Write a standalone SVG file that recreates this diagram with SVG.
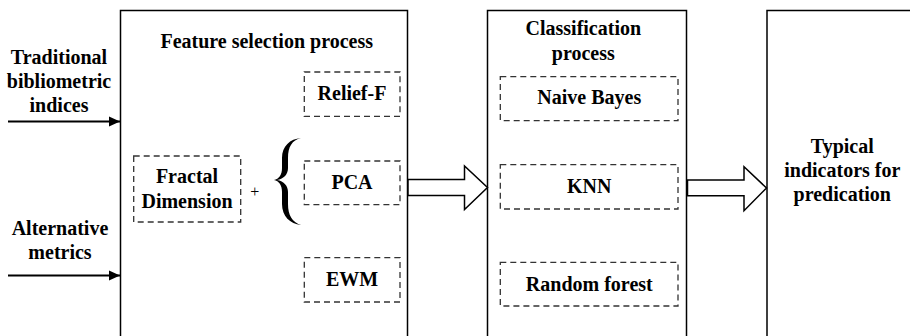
<svg xmlns="http://www.w3.org/2000/svg" width="910" height="336" viewBox="0 0 910 336">
<defs>
<marker id="ah" markerUnits="userSpaceOnUse" markerWidth="12" markerHeight="12" refX="11" refY="6" orient="auto">
<path d="M0,1 L11,6 L0,11 Z" fill="#000"/>
</marker>
<style>
.t{font-family:"Liberation Serif","Times New Roman",serif;font-weight:bold;font-size:20px;fill:#000;text-anchor:middle}
.box{fill:#fff;stroke:#000;stroke-width:1.5}
.dash{fill:none;stroke:#333;stroke-width:1.3;stroke-dasharray:6,4}
.hollow{fill:#fff;stroke:#000;stroke-width:1.5;stroke-linejoin:miter}
.line{stroke:#000;stroke-width:2;fill:none}
</style>
</defs>
<rect width="910" height="336" fill="#fff"/>

<g id="input-traditional">
<text class="t" x="59" y="64">Traditional</text>
<text class="t" x="59" y="88">bibliometric</text>
<text class="t" x="59" y="112">indices</text>
</g>
<g id="input-alternative">
<text class="t" x="60" y="235">Alternative</text>
<text class="t" x="60" y="259">metrics</text>
</g>

<g id="feature-selection">
<rect class="box" x="120.5" y="10.5" width="287" height="340"/>
<text class="t" x="266.7" y="48">Feature selection process</text>
</g>
<g id="fractal">
<rect class="dash" x="133.7" y="156" width="107" height="66"/>
<text class="t" x="187" y="182.7">Fractal</text>
<text class="t" x="187" y="207.7">Dimension</text>
</g>
<g id="plus">
<text x="254.7" y="197" style="font-family:'Liberation Serif',serif;font-size:16px;text-anchor:middle;fill:#000">+</text>
</g>
<g id="brace">
<path d="M301,138 C290,139 282,146 282,158 L282,168 C282,175 279,179 274,180 C279,181 282,185 282,192 L282,204 C282,216 290,224 301,225 C292,222 288,215 288,204 L288,192 C288,186 284,181 277,180 C284,179 288,174 288,168 L288,158 C288,147 292,140 301,138 Z" fill="#000"/>
</g>
<g id="relief-f">
<rect class="dash" x="304.3" y="72" width="95.7" height="44.3"/>
<text class="t" x="352" y="100">Relief-F</text>
</g>
<g id="pca">
<rect class="dash" x="304.3" y="161" width="95.7" height="43.7"/>
<text class="t" x="352" y="189">PCA</text>
</g>
<g id="ewm">
<rect class="dash" x="304.3" y="257.7" width="95.7" height="44.3"/>
<text class="t" x="352" y="286">EWM</text>
</g>

<g id="classification">
<rect class="box" x="487.5" y="10.5" width="199" height="340"/>
<text class="t" x="583.3" y="35">Classification</text>
<text class="t" x="583.3" y="59.5">process</text>
</g>
<g id="naive-bayes">
<rect class="dash" x="500.3" y="76.7" width="177.7" height="44"/>
<text class="t" x="589.3" y="104.3">Naive Bayes</text>
</g>
<g id="knn">
<rect class="dash" x="500.3" y="164.7" width="177.7" height="44.3"/>
<text class="t" x="589.3" y="192.7">KNN</text>
</g>
<g id="random-forest">
<rect class="dash" x="500.3" y="262.3" width="177.7" height="43.7"/>
<text class="t" x="589.3" y="290.7">Random forest</text>
</g>

<g id="typical">
<rect class="box" x="767" y="10.5" width="170" height="340"/>
<text class="t" x="842.3" y="153.3">Typical</text>
<text class="t" x="842.3" y="177.3">indicators for</text>
<text class="t" x="842.3" y="201">predication</text>
</g>

<g id="connectors">
<line class="line" x1="8" y1="121.5" x2="120" y2="121.5" marker-end="url(#ah)"/>
<line class="line" x1="8" y1="275.5" x2="120" y2="275.5" marker-end="url(#ah)"/>
<polygon class="hollow" points="408,179.5 464.5,179.5 464.5,166 487.5,187.5 464.5,209.5 464.5,195.5 408,195.5"/>
<polygon class="hollow" points="687.5,180 744,180 744,166.7 766.5,188 744,210.7 744,195.7 687.5,195.7"/>
</g>
</svg>
